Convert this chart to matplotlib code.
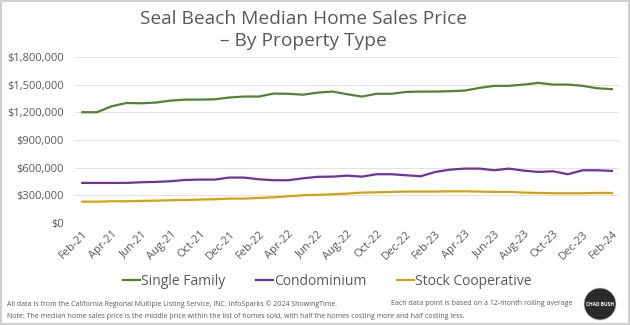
import matplotlib
matplotlib.use('Agg')
import matplotlib.pyplot as plt
from matplotlib.patches import Circle, Rectangle
import numpy as np

plt.rcParams['font.family'] = ['Open Sans', 'DejaVu Sans']

# monthly, Feb-21 .. Feb-24 (12-month rolling medians)
months = ['Feb-21', 'Mar-21', 'Apr-21', 'May-21', 'Jun-21', 'Jul-21', 'Aug-21', 'Sep-21',
          'Oct-21', 'Nov-21', 'Dec-21', 'Jan-22', 'Feb-22', 'Mar-22', 'Apr-22', 'May-22',
          'Jun-22', 'Jul-22', 'Aug-22', 'Sep-22', 'Oct-22', 'Nov-22', 'Dec-22', 'Jan-23',
          'Feb-23', 'Mar-23', 'Apr-23', 'May-23', 'Jun-23', 'Jul-23', 'Aug-23', 'Sep-23',
          'Oct-23', 'Nov-23', 'Dec-23', 'Jan-24', 'Feb-24']

single_family = [1200000, 1200000, 1265000, 1300000, 1297000, 1305000, 1326000, 1337000,
                 1337000, 1340000, 1360000, 1370000, 1370000, 1402000, 1400000, 1390000,
                 1413000, 1424000, 1395000, 1370000, 1400000, 1400000, 1420000, 1424000,
                 1424000, 1428000, 1435000, 1464000, 1486000, 1486000, 1500000, 1518000,
                 1500000, 1500000, 1486000, 1460000, 1450000]

condominium = [434000, 434000, 434000, 434000, 441000, 445000, 452000, 466000,
               470000, 470000, 492000, 492000, 473000, 463000, 463000, 484000,
               500000, 502000, 513000, 502000, 528000, 528000, 517000, 506000,
               553000, 578000, 589000, 589000, 571000, 589000, 567000, 553000,
               560000, 528000, 571000, 571000, 564000]

stock_coop = [231000, 231000, 235000, 235000, 239000, 242000, 246000, 249000,
              253000, 257000, 264000, 264000, 271000, 278000, 289000, 300000,
              305000, 311000, 318000, 329000, 332000, 336000, 340000, 340000,
              340000, 343000, 343000, 340000, 336000, 336000, 329000, 325000,
              322000, 322000, 322000, 325000, 325000]

series_names = ['Single Family', 'Condominium', 'Stock Cooperative']
series_colors = ['#548235', '#7030A0', '#D4A20C']

fig = plt.figure(figsize=(6.3, 3.25), dpi=100)
ax = fig.add_axes([0.119, 0.314, 0.864, 0.511])

x = np.arange(len(months))
for vals, name, col in zip([single_family, condominium, stock_coop], series_names, series_colors):
    ax.plot(x, vals, color=col, linewidth=1.6, label=name)

ax.set_xlim(-0.5, len(months) - 0.5)
ax.set_ylim(0, 1800000)
ax.set_yticks(np.arange(0, 1800001, 300000))
ax.set_yticklabels(['${:,.0f}'.format(v) for v in np.arange(0, 1800001, 300000)])
ax.grid(axis='y', color='#E3E3E3', linewidth=0.8)
ax.set_axisbelow(True)
ax.set_xticks(x[::2])
ax.set_xticklabels(months[::2], rotation=45, ha='right', rotation_mode='anchor')
ax.tick_params(axis='both', length=0, labelsize=8, colors='#595959')
ax.tick_params(axis='x', pad=4)
ax.tick_params(axis='y', pad=8)
for s in ax.spines.values():
    s.set_visible(False)

fig.text(0.481, 0.943, 'Seal Beach Median Home Sales Price', ha='center', va='center',
         fontsize=13.8, color='#595959')
fig.text(0.481, 0.873, '– By Property Type', ha='center', va='center',
         fontsize=13.8, color='#595959')

fig.legend(loc='center', bbox_to_anchor=(0.52, 0.135), ncol=3, frameon=False,
           fontsize=10, handlelength=1.2, handletextpad=0.1, columnspacing=2.2,
           labelcolor='#595959')

fig.text(0.011, 0.065, 'All data is from the California Regional Multiple Listing Service, INC. InfoSparks © 2024 ShowingTime.',
         fontsize=5, color='#595959', va='center')
fig.text(0.62, 0.065, 'Each data point is based on a 12-month rolling average',
         fontsize=5, color='#595959', va='center')
fig.text(0.011, 0.027, 'Note: The median home sales price is the middle price within the list of homes sold, with half the homes costing more and half costing less.',
         fontsize=5, color='#595959', va='center')

# logo
fig.patches.append(Circle((600, 21), 16, transform=None, facecolor='#2B2B2B',
                          edgecolor='#CCCCCC', linewidth=0.5, figure=fig))
fig.text(600 / 630, 21 / 325, 'CHAD BUSH', ha='center', va='center', fontsize=3.5,
         color='white', fontweight='bold')

fig.patches.append(Rectangle((0.001, 0.002), 0.997, 0.995, transform=fig.transFigure,
                             fill=False, edgecolor='#D0D0D0', linewidth=1.5, figure=fig))

fig.savefig('out.png', dpi=100)
